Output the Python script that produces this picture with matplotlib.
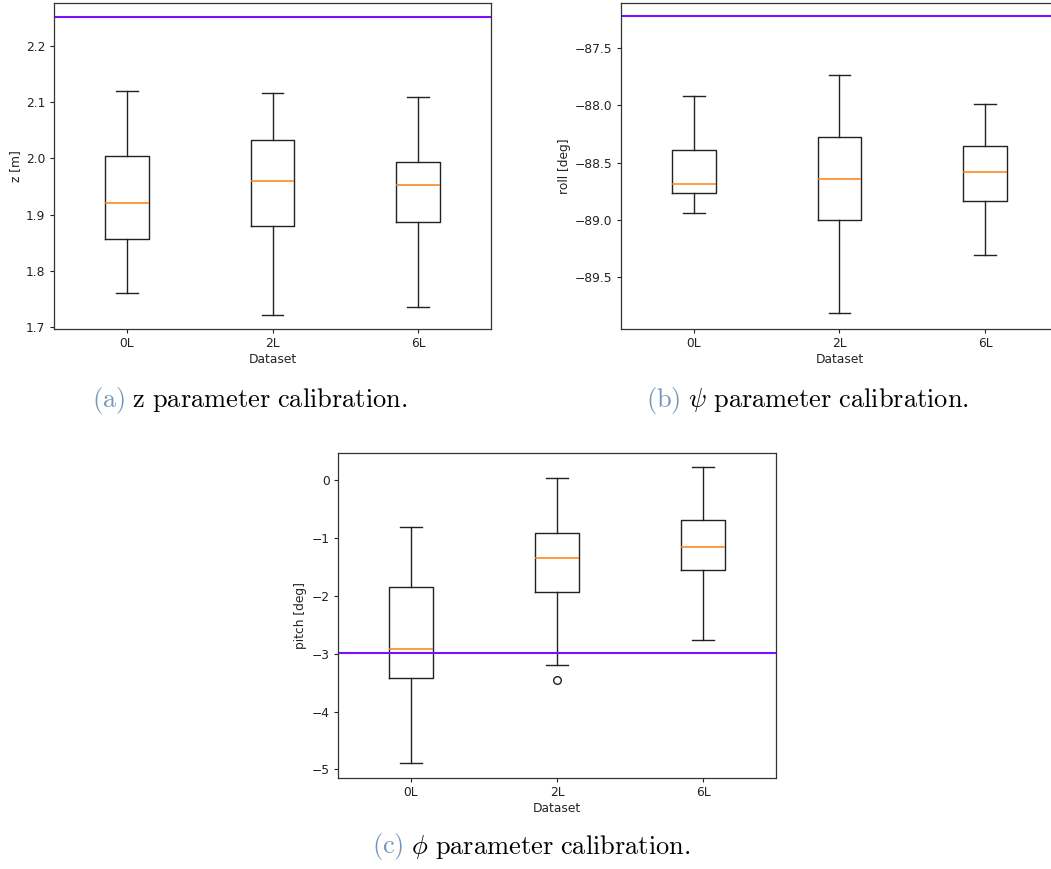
import matplotlib.pyplot as plt

plt.rcParams['mathtext.fontset'] = 'cm'

## data
datasets = ['0L', '2L', '6L']

# z [m]: whisker low, q1, median, q3, whisker high
z_lo = [1.760, 1.722, 1.735]
z_q1 = [1.857, 1.879, 1.886]
z_med = [1.921, 1.960, 1.953]
z_q3 = [2.005, 2.032, 1.993]
z_hi = [2.120, 2.117, 2.110]
z_ref = 2.251

# roll [deg]
roll_lo = [-88.94, -89.818, -89.311]
roll_q1 = [-88.762, -89.003, -88.832]
roll_med = [-88.687, -88.648, -88.579]
roll_q3 = [-88.387, -88.277, -88.355]
roll_hi = [-87.915, -87.738, -87.985]
roll_ref = -87.22

# pitch [deg]
pitch_lo = [-4.89, -3.20, -2.764]
pitch_q1 = [-3.425, -1.941, -1.557]
pitch_med = [-2.914, -1.355, -1.16]
pitch_q3 = [-1.845, -0.924, -0.69]
pitch_hi = [-0.81, 0.034, 0.224]
pitch_fliers = [[], [-3.459], []]
pitch_ref = -2.983

## helpers
def stats(lo, q1, med, q3, hi, fliers=None):
    out = []
    for i, name in enumerate(datasets):
        out.append(dict(label=name, whislo=lo[i], q1=q1[i], med=med[i],
                        q3=q3[i], whishi=hi[i],
                        fliers=fliers[i] if fliers else []))
    return out

def draw(ax, st, ref, ylabel, ylim):
    lw = 1.0
    ax.bxp(st, widths=0.3,
           boxprops=dict(linewidth=lw, color='#222222'),
           whiskerprops=dict(linewidth=lw, color='#222222'),
           capprops=dict(linewidth=lw, color='#222222'),
           medianprops=dict(linewidth=1.1, color='#ff7f0e'),
           flierprops=dict(marker='o', markerfacecolor='none',
                           markeredgecolor='#222222', markersize=5.5,
                           markeredgewidth=1.0))
    ax.axhline(ref, color='#7a10ff', linewidth=1.5)
    ax.set_xlim(0.5, 3.5)
    ax.set_ylim(*ylim)
    ax.set_xlabel('Dataset', fontsize=8.8, labelpad=2, color='#222222')
    ax.set_ylabel(ylabel, fontsize=8.8, labelpad=3, color='#222222')
    ax.tick_params(labelsize=8.8, length=3.1, width=0.8, pad=3,
                   colors='#222222')
    for s in ax.spines.values():
        s.set_linewidth(0.9)
        s.set_color('#333333')

W, H = 1051, 869
fig = plt.figure(figsize=(W / 100, H / 100), dpi=100)

def axes_px(l, t, r, b):
    return fig.add_axes([l / W, 1 - b / H, (r - l) / W, (b - t) / H])

ax_a = axes_px(54, 3, 491, 329)
draw(ax_a, stats(z_lo, z_q1, z_med, z_q3, z_hi), z_ref, 'z [m]', (1.6964, 2.2765))
ax_a.set_yticks([1.7, 1.8, 1.9, 2.0, 2.1, 2.2])

ax_b = axes_px(621, 3, 1058, 329)
draw(ax_b, stats(roll_lo, roll_q1, roll_med, roll_q3, roll_hi), roll_ref,
     'roll [deg]', (-89.954, -87.107))
ax_b.set_yticks([-89.5, -89.0, -88.5, -88.0, -87.5])

ax_c = axes_px(338, 453, 776, 778)
draw(ax_c, stats(pitch_lo, pitch_q1, pitch_med, pitch_q3, pitch_hi, pitch_fliers),
     pitch_ref, 'pitch [deg]', (-5.148, 0.466))
ax_c.set_yticks([-5, -4, -3, -2, -1, 0])

## captions
cap_col = '#7597bb'
fs = 19
renderer = fig.canvas.get_renderer()

def caption(x, y, tag, body):
    t1 = fig.text(x / W, 1 - y / H, tag, color=cap_col, fontsize=fs,
                  ha='left', va='center')
    w = t1.get_window_extent(renderer=renderer).width
    fig.text((x + w) / W, 1 - y / H, body, color='black', fontsize=fs,
             ha='left', va='center')

caption(92, 400, r'$\mathrm{(a)}$', r'$\mathrm{\ z\ parameter\ calibration.}$')
caption(646, 400, r'$\mathrm{(b)}$', r'$\ \psi\ \mathrm{parameter\ calibration.}$')
caption(372, 847, r'$\mathrm{(c)}$', r'$\ \phi\ \mathrm{parameter\ calibration.}$')

fig.savefig('out.png', dpi=100)
